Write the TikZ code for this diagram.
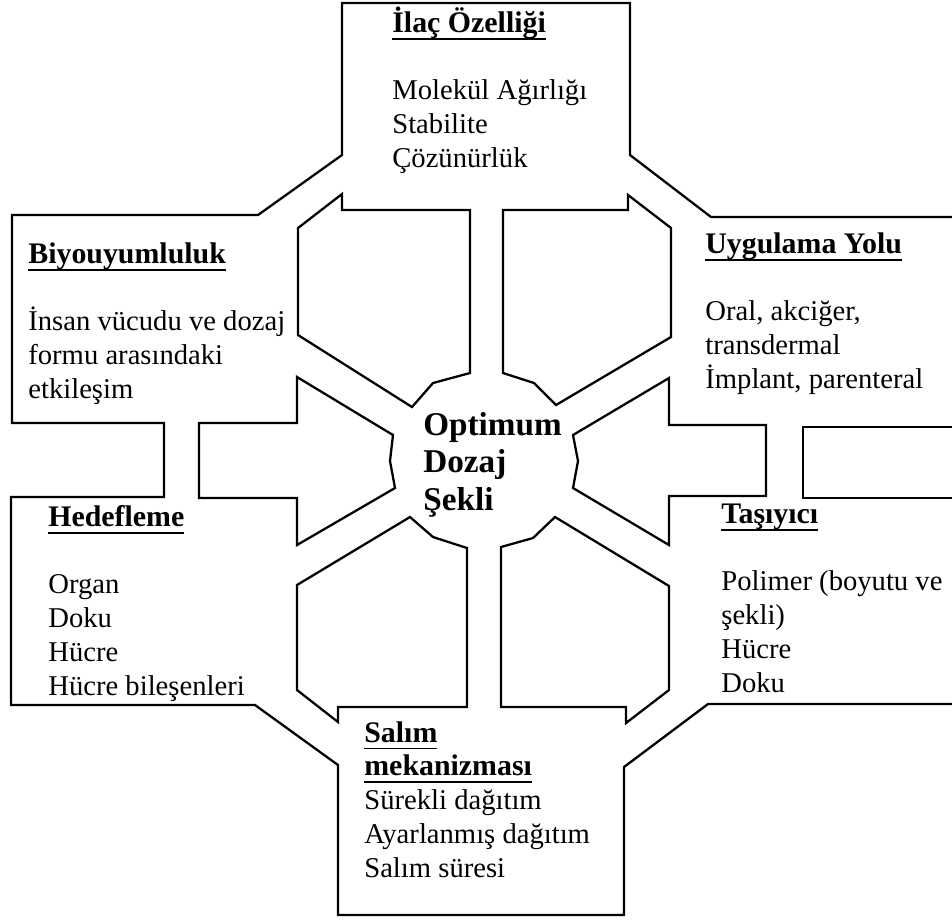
\documentclass[tikz,border=0pt]{standalone}
\usepackage{fontspec}
\setmainfont{Liberation Serif}
\usepackage{tikz}

\newcommand{\undl}[1]{\sbox0{#1}\rlap{\rule[-4.2pt]{\wd0}{1pt}}\usebox0}
\newcommand{\hdr}[1]{\undl{\fontsize{17}{19.2}\selectfont\textbf{#1}}}

\tikzset{
  outline/.style = {line width = 1.3pt, line join = miter},
  txt/.style = {anchor = base west, inner sep = 0pt, align = left,
                font = \fontsize{16.3}{19.2}\selectfont},
  mid/.style = {txt, font = \fontsize{18.9}{21.3}\selectfont\bfseries}
}

\begin{document}
\begin{tikzpicture}[x = 0.02cm, y = -0.02cm]
\useasboundingbox (0,0) rectangle (952,921);
\draw [outline] (952,217) -- (711,217) -- (630,155) -- (630,3) -- (342,3) -- (342,155) -- (258,215) -- (12,215) -- (12,423) -- (164,423) -- (164,497) -- (11,497) -- (11,705) -- (255,705) -- (338,765) -- (338,915) -- (624,915) -- (624,767) -- (708,704) -- (952,704);
\draw [outline] (952,427) -- (803,427) -- (803,498) -- (952,498);
\draw [outline] (342,194) -- (342,210) -- (470,210) -- (470,373) -- (433,383) -- (412,407) -- (298,335) -- (298,228) -- cycle;
\draw [outline] (628,195) -- (628,210) -- (503,210) -- (503,373) -- (534,383) -- (556,405) -- (671,337) -- (671,228) -- cycle;
\draw [outline] (199,423) -- (297,423) -- (297,377) -- (393,435) -- (390,461) -- (395,488) -- (297,545) -- (297,498) -- (199,498) -- cycle;
\draw [outline] (766,425) -- (669,425) -- (669,378) -- (573,435) -- (578,461) -- (573,488) -- (669,545) -- (669,496) -- (766,496) -- cycle;
\draw [outline] (410,517) -- (433,537) -- (467,548) -- (467,707) -- (338,707) -- (338,722) -- (297,690) -- (297,585) -- cycle;
\draw [outline] (555,517) -- (533,538) -- (501,547) -- (501,707) -- (626,707) -- (626,723) -- (669,690) -- (669,586) -- cycle;
\node (ilac) [txt] at (392,167) {\hdr{İlaç Özelliği}\\[19pt]Molekül Ağırlığı\\Stabilite\\Çözünürlük};
\node (biyo) [txt] at (28,398) {\hdr{Biyouyumluluk}\\[19pt]İnsan vücudu ve dozaj\\formu arasındaki\\etkileşim};
\node (yol) [txt] at (705,388) {\hdr{Uygulama Yolu}\\[19pt]Oral, akciğer,\\transdermal\\İmplant, parenteral};
\node (hedef) [txt] at (48,695) {\hdr{Hedefleme}\\[19pt]Organ\\Doku\\Hücre\\Hücre bileşenleri};
\node (tasiyici) [txt] at (721,692) {\hdr{Taşıyıcı}\\[19pt]Polimer (boyutu ve\\şekli)\\Hücre\\Doku};
\node (salim) [txt] at (364,877) {\hdr{Salım}\\\hdr{mekanizması}\\Sürekli dağıtım\\Ayarlanmış dağıtım\\Salım süresi};
\node (optimum) [mid] at (423,510) {Optimum\\Dozaj\\Şekli};
\end{tikzpicture}
\end{document}
